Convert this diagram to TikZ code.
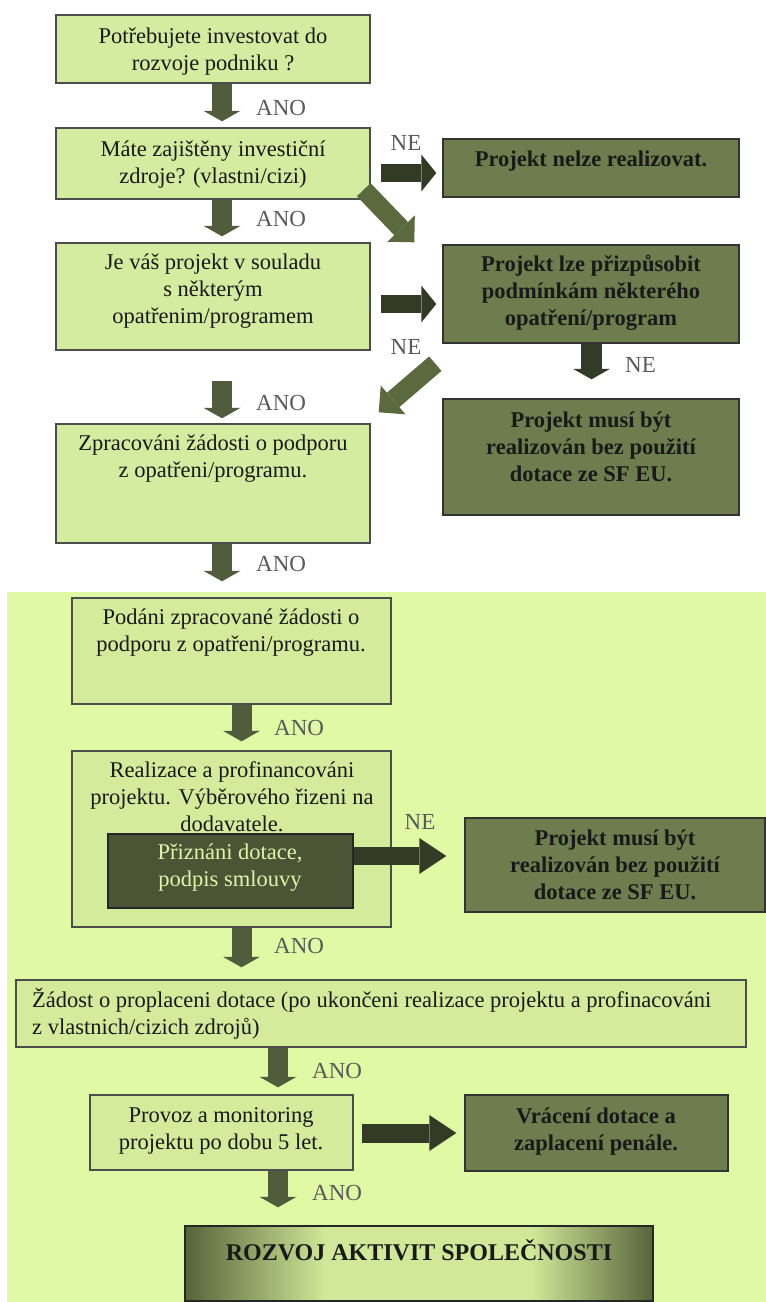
\documentclass[tikz,border=0pt]{standalone}
\usepackage{fontspec}
\setmainfont{Liberation Serif}
\usetikzlibrary{arrows.meta,calc,fit}
\definecolor{lbox}{HTML}{D4EC9F}
\definecolor{lboxb}{HTML}{D3EB9B}
\definecolor{bgl}{HTML}{E0F9A5}
\definecolor{dbox}{HTML}{6D7D4E}
\definecolor{arrd}{HTML}{505C3B}
\definecolor{arrk}{HTML}{333B27}
\definecolor{arrm}{HTML}{5A6A3E}
\definecolor{innerc}{HTML}{4B5535}
\definecolor{innert}{HTML}{E2F3AA}
\definecolor{anog}{HTML}{5A5A5A}
\definecolor{edgec}{HTML}{4D4D4D}
\definecolor{rozdk}{HTML}{56643A}
\definecolor{rozlt}{HTML}{D0E898}
\pgfdeclarehorizontalshading{rozvoj}{100bp}{color(0bp)=(rozdk); color(25bp)=(rozdk); color(40bp)=(rozlt); color(62bp)=(rozlt); color(75bp)=(rozdk); color(100bp)=(rozdk)}
\begin{document}
\begin{tikzpicture}[x=1pt,y=-1pt,
  boxl/.style={draw=edgec, line width=1.4pt, fill=lbox, inner sep=0pt},
  boxlb/.style={draw=edgec, line width=1.4pt, fill=lboxb, inner sep=0pt},
  boxd/.style={draw=black!80, line width=1.4pt, fill=dbox, inner sep=0pt},
  txt/.style={align=center, inner sep=0pt, font=\fontsize{22.5}{27}\selectfont, text=black!90},
  btxt/.style={txt, font=\fontsize{22.5}{27}\selectfont\bfseries},
  lab/.style={inner sep=0pt, font=\fontsize{23}{27}\selectfont, text=anog},
  downarr/.style={draw=arrd, line width=20pt, -{Triangle[width=37pt,length=10.5pt,line width=0pt]}},
  rarr/.style={draw=arrk, line width=18pt, -{Triangle[width=37pt,length=15pt,line width=0pt]}},
  rarrl/.style={draw=arrk, line width=18pt, -{Triangle[width=36pt,length=27pt,line width=0pt]}},
  diagarr/.style={draw=arrm, line width=19pt, -{Triangle[width=38pt,length=19pt,line width=0pt]}}
]
\useasboundingbox (0,0) rectangle (766,1302);
\fill[white] (0,0) rectangle (766,1302);
\fill[bgl] (7,592) rectangle (766,1302);

% top boxes
\node[boxl, fit={(56,15) (370,83)}] (b1) {};
\node[boxl, fit={(56,128) (370,199)}] (b2) {};
\node[boxl, fit={(56,243) (370,350)}] (b3) {};
\node[boxl, fit={(56,424) (370,543)}] (b4) {};
\node[boxd, fit={(443,139) (739,197)}] (nelze) {};
\node[boxd, fit={(443,245) (739,343)}] (prizp) {};
\node[boxd, fit={(443,399) (739,515)}] (musi1) {};
% lower boxes
\node[boxlb, fit={(72,598) (391,704)}] (b5) {};
\node[boxlb, fit={(72,751) (391,927)}] (b6) {};
\node[draw=black!85, line width=1.4pt, fill=innerc, inner sep=0pt, fit={(108,834) (353,908)}] (priz) {};
\node[boxd, fit={(465,818) (765,912)}] (musi2) {};
\node[boxlb, fit={(16,980) (746,1047)}] (b7) {};
\node[boxlb, fit={(90,1095) (353,1170)}] (b8) {};
\node[boxd, fit={(465,1095) (728,1171)}] (vrac) {};
\node[draw=black!85, line width=1.4pt, shading=rozvoj, inner sep=0pt, fit={(185,1226) (653,1301)}] (final) {};

% texts
\node[txt] (t1) at (213,51.5) {Potřebujete investovat do\\rozvoje podniku ?};
\node[txt] (t2) at (213,164.5) {Máte zajištěny investiční\\zdroje? (vlastni/cizi)};
\node[txt] (t3) at (213,291) {Je váš projekt v souladu\\s některým\\opatřenim/programem};
\node[txt] (t4) at (213,459) {Zpracováni žádosti o podporu\\z opatřeni/programu.};
\node[btxt] (tnelze) at (591,161) {Projekt nelze realizovat.};
\node[btxt] (tprizp) at (591,293) {Projekt lze přizpůsobit\\podmínkám některého\\opatření/program};
\node[btxt] (tmusi1) at (591,446.5) {Projekt musí být\\realizován bez použití\\dotace ze SF EU.};
\node[txt] (t5) at (231,633) {Podáni zpracované žádosti o\\podporu z opatřeni/programu.};
\node[txt] (t6) at (232,797) {Realizace a profinancováni\\projektu. Výběrového řizeni na\\dodavatele.};
\node[txt, text=innert] (tpriz) at (230,868) {Přiznáni dotace,\\podpis smlouvy};
\node[btxt] (tmusi2) at (615,864.5) {Projekt musí být\\realizován bez použití\\dotace ze SF EU.};
\node[txt, align=left, anchor=west] (tzad) at (32,1013.5) {Žádost o proplaceni dotace (po ukončeni realizace projektu a profinacováni\\z vlastnich/cizich zdrojů)};
\node[txt] (tprov) at (221,1130.5) {Provoz a monitoring\\projektu po dobu 5 let.};
\node[btxt] (tvrac) at (596,1132) {Vrácení dotace a\\zaplacení penále.};
\node[btxt, font=\fontsize{24}{28}\selectfont\bfseries] (troz) at (419,1250) {ROZVOJ AKTIVIT SPOLEČNOSTI};

% down arrows
\draw[downarr, shorten >=6pt] ($(b1.south)+(9,0)$) -- ($(b2.north)+(9,0)$);
\draw[downarr, shorten >=6pt] ($(b2.south)+(9,0)$) -- ($(b3.north)+(9,0)$);
\draw[downarr, shorten <=30pt, shorten >=5pt] ($(b3.south)+(9,0)$) -- ($(b4.north)+(9,0)$);
\draw[downarr, shorten >=16pt] ($(b4.south)+(9,0)$) -- ($(b5.north)+(-9.5,0)$);
\draw[downarr, shorten >=9pt] ($(b5.south)+(10,0)$) -- ($(b6.north)+(10,0)$);
\draw[downarr, shorten >=12pt] ($(b6.south)+(10,0)$) -- ($(b7.north)+(-139.5,0)$);
\draw[downarr, shorten >=7pt] ($(b7.south)+(-103,0)$) -- ($(b8.north)+(56.5,0)$);
\draw[downarr, shorten >=18pt] ($(b8.south)+(56.5,0)$) -- ($(final.north)+(-141,0)$);
\draw[downarr, line width=21pt, draw=arrk, shorten >=19pt] ($(prizp.south)+(0.5,0)$) -- ($(musi1.north)+(0.5,0)$);

% right arrows
\draw[rarr, shorten <=10pt, shorten >=6pt] ($(b2.east)+(0,9.5)$) -- ($(nelze.west)+(0,5)$);
\draw[rarr, shorten <=10pt, shorten >=6pt] ($(b3.east)+(0,7.5)$) -- ($(prizp.west)+(0,10)$);
\draw[rarrl, shorten >=18pt] ($(priz.east)+(0,-15)$) -- ($(musi2.west)+(0,-9)$);
\draw[rarrl, line width=19pt, shorten <=8pt, shorten >=8pt] ($(b8.east)+(0,0.5)$) -- ($(vrac.west)+(0,0)$);

% diagonal arrows
\draw[diagarr] ($(b2.south east)+(-7,-10)$) -- ($(prizp.north west)+(-28,-2)$);
\draw[diagarr] ($(prizp.south west)+(-7,20)$) -- ($(b4.north east)+(8,-11)$);

% labels
\node[lab, anchor=west] (ano1) at (256,108) {ANO};
\node[lab, anchor=west] (ano2) at (256,219) {ANO};
\node[lab, anchor=west] (ano3) at (256,403) {ANO};
\node[lab, anchor=west] (ano4) at (256,564) {ANO};
\node[lab, anchor=west] (ano5) at (274,728) {ANO};
\node[lab, anchor=west] (ano6) at (274,946) {ANO};
\node[lab, anchor=west] (ano7) at (312,1071) {ANO};
\node[lab, anchor=west] (ano8) at (312,1193) {ANO};
\node[lab] (ne1) at (406,143) {NE};
\node[lab] (ne2) at (406,347) {NE};
\node[lab, anchor=west] (ne3) at (625,365) {NE};
\node[lab] (ne4) at (420,822) {NE};
\end{tikzpicture}
\end{document}
